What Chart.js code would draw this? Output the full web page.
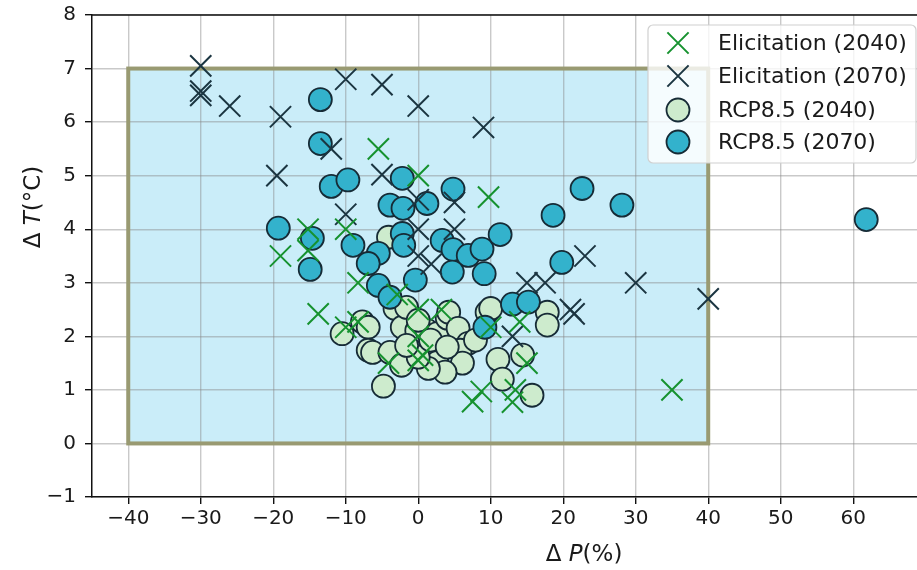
<!DOCTYPE html>
<html>
<head>
<meta charset="utf-8">
<script src="https://cdn.jsdelivr.net/npm/chart.js@4/dist/chart.umd.min.js"></script>
<style>
  html, body { margin: 0; padding: 0; background: #fff; overflow: hidden; }
  #ChartDiv { width: 917px; height: 570px; position: relative; }
</style>
</head>
<body>
<div id="ChartDiv"><canvas id="DeltaChart"></canvas></div>
<script>
/*Ticks dos eixos*/
const x_ticks = [-40, -30, -20, -10, 0, 10, 20, 30, 40, 50, 60]
const y_ticks = [-1, 0, 1, 2, 3, 4, 5, 6, 7, 8]

/*Caixa de referencia (dP de -40 a 40 %, dT de 0 a 7 C)*/
const box_x = [-40, 40]
const box_y = [0, 7]

const series_names = ['Elicitation (2040)', 'Elicitation (2070)', 'RCP8.5 (2040)', 'RCP8.5 (2070)']

const elic_2040_x = [-5.5, 0, 9.7, -15.2, -15.2, -19, -10, -8.3, -2.9, -13.8, -10, -8.3, 0, 3.2, 10, 0, -4.1, 0, 0.6, 14, 15, 8.7, 7.5, 13.4, 13, 35]
const elic_2040_y = [5.5, 5.0, 4.6, 4.0, 3.6, 3.5, 4.0, 3.0, 2.78, 2.42, 2.17, 2.27, 2.5, 2.5, 2.17, 2.0, 1.5, 1.55, 1.65, 2.27, 1.5, 0.97, 0.78, 1.0, 0.77, 1.0]

const elic_2070_x = [-30, -30, -30, -26, -19, -19.5, -10, -5, 0, 9, -12, -5, -10, 0, 5, 0, 5, 0, 1.8, 23, 15, 17.5, 30, 21, 21.5, 13, 40]
const elic_2070_y = [7.05, 6.58, 6.5, 6.3, 6.1, 5.0, 6.8, 6.7, 6.3, 5.9, 5.5, 5.02, 4.28, 4.55, 4.5, 4.0, 4.0, 3.5, 3.35, 3.5, 3.0, 3.0, 3.0, 2.5, 2.42, 2.0, 2.7]

const rcp_2040_x = [-10.5, -7.7, -6.9, -6.9, -6.3, -4.8, -3.9, -2.3, -3.2, -2.2, -0.2, 1.2, 2.6, 4, 4.2, 5.5, 6.9, 5.8, 6.1, 2.6, 3.7, 1.4, 0, -1.6, 1.7, 9.5, 7.9, 11, 11.6, 17.8, 17.8, 14.4, 15.7, -4.1, -1.6, 10, 0, 4]
const rcp_2040_y = [2.05, 2.27, 2.17, 1.74, 1.7, 1.07, 1.7, 1.46, 2.52, 2.17, 2.11, 2.11, 2.05, 2.34, 2.45, 2.15, 1.87, 1.74, 1.5, 1.51, 1.33, 1.4, 1.61, 1.83, 1.93, 2.45, 1.93, 1.57, 1.2, 2.45, 2.21, 1.65, 0.9, 3.85, 2.54, 2.52, 2.3, 1.8]

const rcp_2070_x = [-13.5, -13.5, -12, -9.7, -19.3, -14.6, -14.9, -9, -5.5, -6.9, -5.5, -3.9, -3.9, -2.1, -2.2, 1.2, -2.2, -2, -0.4, 4.8, 3.3, 4.8, 6.9, 4.7, 8.8, 9.1, 11.3, 18.6, 22.6, 28.1, 19.8, 13, 15.2, 9.2, 61.8]
const rcp_2070_y = [6.42, 5.6, 4.8, 4.92, 4.02, 3.83, 3.25, 3.7, 3.55, 3.36, 2.95, 2.73, 4.45, 4.39, 4.95, 4.48, 3.92, 3.7, 3.05, 4.75, 3.79, 3.62, 3.51, 3.2, 3.63, 3.17, 3.9, 4.26, 4.76, 4.45, 3.38, 2.6, 2.64, 2.17, 4.18]

/*Estilos das series*/
const green_x = '#16922f'
const dark_x = '#1b3541'
const edge = '#162b36'
const light_fill = '#cdebcd'
const teal_fill = '#33b2cc'
const box_fill = '#caedf9'
const box_edge = '#999a72'
const grid_col = 'rgba(135,135,135,0.45)'
const font_family = '"DejaVu Sans", Verdana, sans-serif'

function points(xs, ys) {
    const out = []
    for (let i = 0; i < xs.length; i++) {
        out.push({x: xs[i], y: ys[i]})
    }
    return out
}

function minus(v) {
    return String(v).replace('-', '\u2212')
}

/*Desenha o retangulo de referencia: fundo antes da grade, borda depois*/
const boxPlugin = {
    id: 'boxPlugin',
    beforeDraw(chart) {
        const {ctx, scales: {x, y}} = chart
        const x0 = x.getPixelForValue(box_x[0]), x1 = x.getPixelForValue(box_x[1])
        const y0 = y.getPixelForValue(box_y[0]), y1 = y.getPixelForValue(box_y[1])
        ctx.save()
        ctx.fillStyle = box_fill
        ctx.fillRect(x0, y1, x1 - x0, y0 - y1)
        ctx.restore()
    },
    beforeDatasetsDraw(chart) {
        const {ctx, chartArea, scales: {x, y}} = chart
        const x0 = x.getPixelForValue(box_x[0]), x1 = x.getPixelForValue(box_x[1])
        const y0 = y.getPixelForValue(box_y[0]), y1 = y.getPixelForValue(box_y[1])
        ctx.save()
        ctx.strokeStyle = box_edge
        ctx.lineWidth = 4
        ctx.strokeRect(x0, y1, x1 - x0, y0 - y1)
        /*linha superior do eixo*/
        ctx.strokeStyle = '#111'
        ctx.lineWidth = 1.5
        ctx.beginPath()
        ctx.moveTo(chartArea.left, chartArea.top)
        ctx.lineTo(chartArea.right, chartArea.top)
        ctx.stroke()
        ctx.restore()
    }
}

/*Texto com partes em italico (titulos dos eixos)*/
function drawParts(ctx, parts, cx, cy, size) {
    let total = 0
    for (const p of parts) {
        ctx.font = (p[1] ? 'italic ' : '') + size + 'px ' + font_family
        total += ctx.measureText(p[0]).width
    }
    let xpos = cx - total / 2
    for (const p of parts) {
        ctx.font = (p[1] ? 'italic ' : '') + size + 'px ' + font_family
        ctx.fillText(p[0], xpos, cy)
        xpos += ctx.measureText(p[0]).width
    }
}

const labelPlugin = {
    id: 'labelPlugin',
    afterDraw(chart) {
        const ctx = chart.ctx
        ctx.save()
        ctx.fillStyle = '#1a1a1a'
        ctx.textBaseline = 'middle'
        ctx.textAlign = 'left'
        drawParts(ctx, [['\u0394 ', false], ['P', true], ['(%)', false]], 584, 555, 23)
        ctx.translate(34, 207)
        ctx.rotate(-Math.PI / 2)
        drawParts(ctx, [['\u0394 ', false], ['T', true], ['(\u00b0C)', false]], 0, 0, 23)
        ctx.restore()
    }
}

/*Legenda desenhada manualmente dentro do grafico*/
const legendPlugin = {
    id: 'legendPlugin',
    afterDraw(chart) {
        const ctx = chart.ctx
        const bx = 648, by = 25, bw = 268, bh = 138
        ctx.save()
        ctx.beginPath()
        ctx.roundRect(bx, by, bw, bh, 5)
        ctx.fillStyle = 'rgba(255,255,255,0.8)'
        ctx.fill()
        ctx.strokeStyle = '#d0d0d0'
        ctx.lineWidth = 1.2
        ctx.stroke()
        const rows = [43, 76, 110, 142]
        chart.data.datasets.forEach((ds, i) => {
            const opts = {
                pointStyle: ds.pointStyle,
                radius: ds.pointRadius,
                borderWidth: ds.borderWidth,
                rotation: 0
            }
            ctx.fillStyle = ds.backgroundColor
            ctx.strokeStyle = ds.borderColor
            ctx.lineWidth = ds.borderWidth
            Chart.helpers.drawPoint(ctx, opts, 678, rows[i])
            ctx.fillStyle = '#1a1a1a'
            ctx.font = '22px ' + font_family
            ctx.textBaseline = 'middle'
            ctx.fillText(series_names[i], 718, rows[i] + 1)
        })
        ctx.restore()
    }
}

const ctx = document.getElementById('DeltaChart').getContext('2d')

const DeltaChart = new Chart(ctx, {
    type: 'scatter',
    data: {
        datasets: [
            {
                label: series_names[0],
                data: points(elic_2040_x, elic_2040_y),
                pointStyle: 'crossRot',
                pointRadius: 15,
                borderColor: green_x,
                backgroundColor: green_x,
                borderWidth: 2,
                order: 1
            },
            {
                label: series_names[1],
                data: points(elic_2070_x, elic_2070_y),
                pointStyle: 'crossRot',
                pointRadius: 15,
                borderColor: dark_x,
                backgroundColor: dark_x,
                borderWidth: 2,
                order: 2
            },
            {
                label: series_names[2],
                data: points(rcp_2040_x, rcp_2040_y),
                pointStyle: 'circle',
                pointRadius: 11.5,
                borderColor: edge,
                backgroundColor: light_fill,
                borderWidth: 1.8,
                order: 4
            },
            {
                label: series_names[3],
                data: points(rcp_2070_x, rcp_2070_y),
                pointStyle: 'circle',
                pointRadius: 11.5,
                borderColor: edge,
                backgroundColor: teal_fill,
                borderWidth: 1.8,
                order: 3
            }
        ]
    },
    options: {
        responsive: true,
        maintainAspectRatio: false,
        animation: false,
        events: [],
        layout: {autoPadding: false, padding: {top: 15, left: 0, right: 0, bottom: 0}},
        plugins: {
            legend: {display: false},
            tooltip: {enabled: false}
        },
        scales: {
            x: {
                type: 'linear',
                min: -45,
                max: 68.8,
                afterBuildTicks: s => { s.ticks = x_ticks.map(v => ({value: v})) },
                afterFit: s => { s.height = 73; s.paddingLeft = 0; s.paddingRight = 0 },
                ticks: {
                    color: '#1a1a1a',
                    font: {family: font_family, size: 20},
                    padding: 3,
                    maxRotation: 0,
                    autoSkip: false,
                    callback: v => minus(v)
                },
                grid: {color: grid_col, lineWidth: 1.4, tickColor: '#111', tickLength: 7},
                border: {color: '#111', width: 1.5}
            },
            y: {
                type: 'linear',
                min: -1,
                max: 8,
                afterBuildTicks: s => { s.ticks = y_ticks.map(v => ({value: v})) },
                afterFit: s => { s.width = 92; s.paddingTop = 0; s.paddingBottom = 0 },
                ticks: {
                    color: '#1a1a1a',
                    font: {family: font_family, size: 20},
                    padding: 9,
                    autoSkip: false,
                    callback: v => minus(v)
                },
                grid: {color: grid_col, lineWidth: 1.4, tickColor: '#111', tickLength: 7},
                border: {color: '#111', width: 1.5}
            }
        }
    },
    plugins: [boxPlugin, labelPlugin, legendPlugin]
})
</script>
</body>
</html>
